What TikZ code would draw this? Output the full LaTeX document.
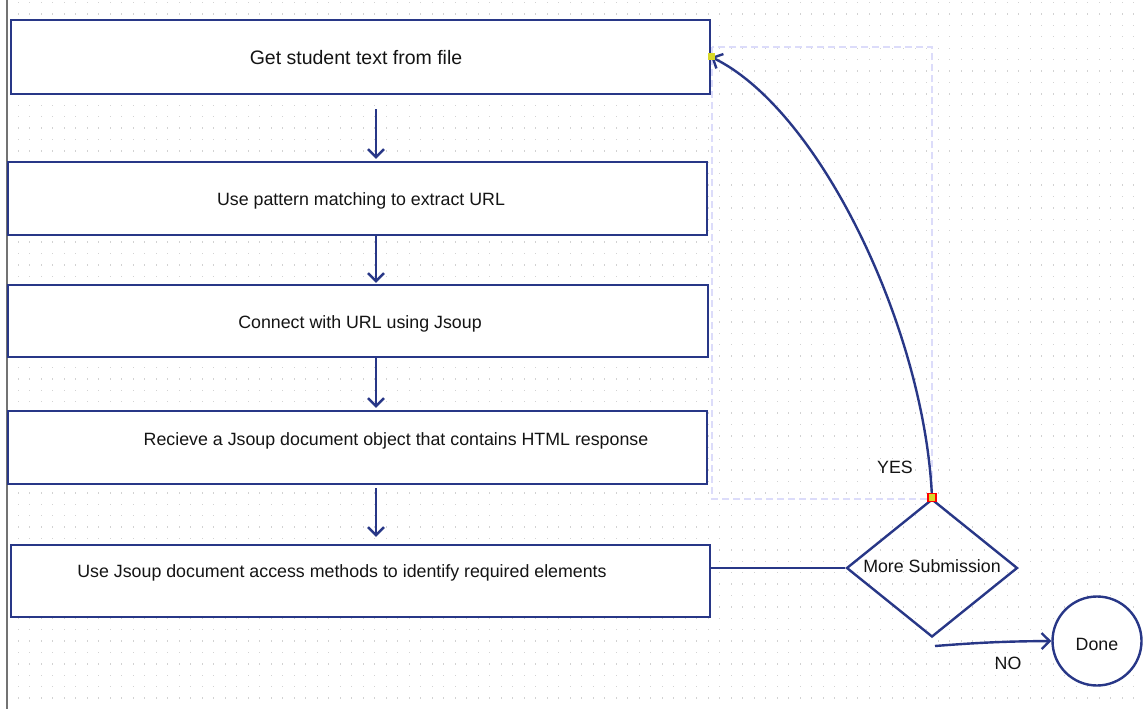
\documentclass[tikz,border=0pt]{standalone}
\usepackage{fontspec}
\setmainfont{Liberation Sans}
\usetikzlibrary{arrows.meta,shapes.geometric}
\definecolor{navy}{RGB}{40,55,135}
\definecolor{txt}{RGB}{20,20,20}
\definecolor{dotc}{RGB}{210,210,210}
\definecolor{lav}{RGB}{220,220,250}
\definecolor{mk}{RGB}{215,215,40}
\begin{document}
\begin{tikzpicture}[x=1pt,y=-1pt,
  box/.style={draw=navy,line width=2.4pt,fill=white,inner sep=0pt},
  lbl/.style={text=txt,inner sep=0pt,font=\fontsize{17.8}{20}\selectfont},
  biglbl/.style={text=txt,inner sep=0pt,font=\fontsize{19.5}{22}\selectfont},
  arr/.style={draw=navy,line width=2.4pt,-{Straight Barb[length=8pt,width=16pt]}},
  conn/.style={draw=navy,line width=2.4pt}]
\useasboundingbox (0,0) rectangle (1145,709);
\fill[white] (0,0) rectangle (1145,709);
% dotted grid
\foreach \i in {0,...,99}{\foreach \j in {0,...,61}{\fill[dotc] (6+\i*11.5,2+\j*11.4) rectangle +(1.3,1.3);}}
% left edge line
\draw[line width=1.5pt,draw=black!55] (7,0) -- (7,709);
% dashed selection rectangle
\draw[lav,line width=1.5pt,dash pattern=on 7pt off 4pt] (712,47) rectangle (932,499);
% boxes
\node[box,minimum width=699,minimum height=74] (b1) at (360.5,57) {};
\node[box,minimum width=699,minimum height=73] (b2) at (357.5,198.5) {};
\node[box,minimum width=700,minimum height=72] (b3) at (358,321) {};
\node[box,minimum width=699,minimum height=73] (b4) at (357.5,447.5) {};
\node[box,minimum width=699,minimum height=72] (b5) at (360.5,581) {};
\node[biglbl] (t1) at (356,58) {Get student text from file};
\node[lbl] (t2) at (361,201) {Use pattern matching to extract URL};
\node[lbl] (t3) at (360,324) {Connect with URL using Jsoup};
\node[lbl] (t4) at (396,441) {Recieve a Jsoup document object that contains HTML response};
\node[lbl] (t5) at (342,573) {Use Jsoup document access methods to identify required elements};
% decision and end
\node[diamond,draw=navy,line width=2.4pt,minimum width=171,minimum height=138,inner sep=0pt] (dec) at (932,568) {};
\node[lbl] (tdec) at (932,566) {More Submission};
\node[circle,draw=navy,line width=2.4pt,fill=white,minimum size=89,inner sep=0pt] (done) at (1097,641) {};
\node[lbl] (tdone) at (1097,644) {Done};
% vertical arrows
\coordinate (col) at (376,0);
\draw[arr,shorten <=14pt,shorten >=2pt] (b1.south -| col) -- (b2.north -| col);
\draw[arr,shorten >=1pt] (b2.south -| col) -- (b3.north -| col);
\draw[arr,shorten >=2pt] (b3.south -| col) -- (b4.north -| col);
\draw[arr,shorten <=3pt,shorten >=7pt] (b4.south -| col) -- (b5.north -| col);
% box5 to decision
\draw[conn] (b5.east |- dec.west) -- (dec.west);
% yes loop
\draw[arr] (dec.north) .. controls (925,330) and (820,110) .. (b1.east);
\node[lbl] (yes) at (895,467) {YES};
% no arrow
\coordinate (nostart) at (935,646);
\draw[arr] (nostart) to[bend left=2] (done.west);
\node[lbl] (no) at (1008,663) {NO};
% markers
\fill[mk] (b1.east) ++(-3.5,-3.5) rectangle ++(7,7);
\draw[red,line width=1.2pt,fill=mk] (dec.north) ++(-4,-4) rectangle ++(8,8);
\end{tikzpicture}
\end{document}
